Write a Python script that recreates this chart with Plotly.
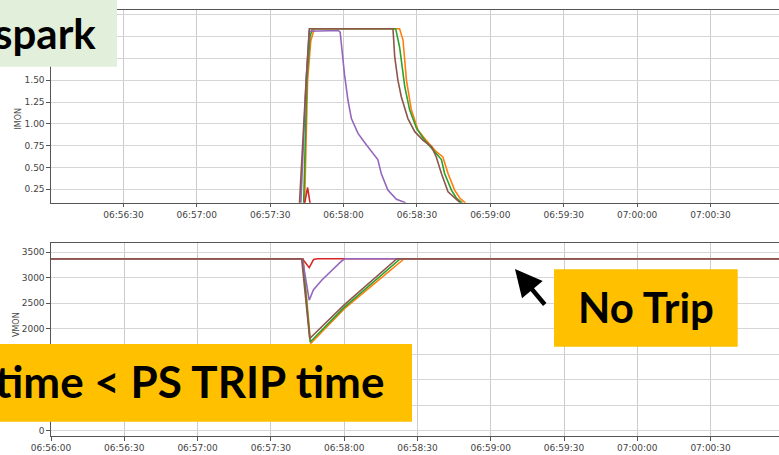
import pandas as pd
import plotly.graph_objects as go

W, H = 779, 455
ML = 51  # left margin in px; plot area runs to the right edge

start = pd.Timestamp("2024-01-01 06:56:00")
span_s = 298  # visible seconds

# ---- IMON (current) per channel: seconds after 06:56:00 / value ----
imon_orange_t = [0, 104.0, 105.3, 106.6, 108.0, 142.9, 144.3, 145.7, 147.7, 150.4,
                 153.8, 157.9, 160.6, 162.7, 165.4, 167.5, 169.5, 172, 298]
imon_orange = [0, 0, 1.50, 1.95, 2.09, 2.09, 1.96, 1.50, 1.16, 0.93,
               0.81, 0.68, 0.62, 0.43, 0.24, 0.15, 0.10, 0, 0]

imon_green_t = [0, 103.6, 105.0, 106.3, 107.2, 141.3, 142.9, 144.0, 145.0, 147.0,
                149.8, 153.2, 156.5, 160.0, 161.3, 164.1, 166.1, 168.2, 171, 298]
imon_green = [0, 0, 1.50, 2.00, 2.09, 2.09, 1.88, 1.65, 1.43, 1.16,
              0.95, 0.81, 0.70, 0.59, 0.43, 0.24, 0.15, 0.10, 0, 0]

imon_red_t = [0, 103.5, 105.3, 106.8, 298]
imon_red = [0, 0, 0.27, 0, 0]

imon_purple_t = [0, 102.4, 104.7, 106.0, 117.8, 118.6, 120.4, 121.8, 123.2, 125.9,
                 129.3, 132.0, 134.0, 135.4, 138.1, 141.6, 145.0, 148, 298]
imon_purple = [0, 0, 1.50, 2.06, 2.07, 2.05, 1.56, 1.27, 1.06, 0.89,
               0.76, 0.66, 0.59, 0.43, 0.24, 0.135, 0.10, 0, 0]

imon_brown_t = [0, 101.8, 104.7, 106.0, 140.2, 140.9, 142.2, 143.6, 146.3, 149.1,
                152.5, 155.9, 157.9, 160.0, 162.7, 165.4, 167.5, 170, 298]
imon_brown = [0, 0, 1.50, 2.09, 2.09, 1.77, 1.50, 1.31, 1.06, 0.91,
              0.81, 0.74, 0.62, 0.43, 0.22, 0.15, 0.10, 0, 0]

# ---- VMON (voltage) per channel ----
vmon_orange_t = [0, 103.2, 106.3, 120.0, 144.6, 298]
vmon_orange = [3375, 3375, 1710, 2390, 3375, 3375]

vmon_green_t = [0, 103.0, 106.1, 120.0, 143.0, 298]
vmon_green = [3375, 3375, 1740, 2420, 3375, 3375]

vmon_red_t = [0, 102.9, 105.7, 107.5, 109.0, 298]
vmon_red = [3375, 3375, 3200, 3360, 3375, 3375]

vmon_purple_t = [0, 102.9, 105.7, 107.4, 110.9, 113.6, 116.3, 119.1, 120.4, 298]
vmon_purple = [3375, 3375, 2560, 2760, 2957, 3088, 3218, 3335, 3375, 3375]

vmon_brown_t = [0, 102.6, 105.9, 120.0, 141.6, 298]
vmon_brown = [3375, 3375, 1810, 2470, 3375, 3375]

imon_ticks = [0.25, 0.50, 0.75, 1.00, 1.25, 1.50, 1.75, 2.00, 2.25]
vmon_ticks = [0, 500, 1000, 1500, 2000, 2500, 3000, 3500]

COLORS = {"orange": "#ff7f0e", "green": "#2ca02c", "red": "#d62728",
          "purple": "#9467bd", "brown": "#8c564b"}


def ts(offsets):
    return [start + pd.Timedelta(seconds=s) for s in offsets]


def px_x(px):
    return (px - ML) / (W - ML)


def px_y(py):
    return (H - py) / H


fig = go.Figure()

top_series = [("orange", imon_orange_t, imon_orange), ("green", imon_green_t, imon_green),
              ("red", imon_red_t, imon_red), ("purple", imon_purple_t, imon_purple),
              ("brown", imon_brown_t, imon_brown)]
bot_series = [("orange", vmon_orange_t, vmon_orange), ("green", vmon_green_t, vmon_green),
              ("red", vmon_red_t, vmon_red), ("purple", vmon_purple_t, vmon_purple),
              ("brown", vmon_brown_t, vmon_brown)]

for name, t, v in top_series:
    fig.add_trace(go.Scatter(x=ts(t), y=v, mode="lines", name=name,
                             line=dict(color=COLORS[name], width=1.6),
                             xaxis="x", yaxis="y", showlegend=False))
for name, t, v in bot_series:
    fig.add_trace(go.Scatter(x=ts(t), y=v, mode="lines", name=name,
                             line=dict(color=COLORS[name], width=1.6),
                             xaxis="x2", yaxis="y2", showlegend=False))

top_range = [start + pd.Timedelta(seconds=0.4), start + pd.Timedelta(seconds=span_s)]
bot_range = [start, start + pd.Timedelta(seconds=span_s)]
tick_font = dict(family="DejaVu Sans", size=9, color="#444")

xcommon = dict(type="date", tick0=start, dtick=30000,
               tickformat="%H:%M:%S", showgrid=True, gridcolor="#cccccc", gridwidth=1,
               showline=True, linecolor="#555", linewidth=1.2, mirror=True,
               ticks="outside", ticklen=3.5, tickcolor="#555", tickfont=tick_font,
               zeroline=False)
ycommon = dict(showgrid=True, gridcolor="#d6d6d6", gridwidth=1,
               showline=True, linecolor="#555", linewidth=1.2, mirror=False,
               ticks="outside", ticklen=3.5, tickcolor="#555", tickfont=tick_font,
               zeroline=False)

fig.update_layout(
    width=W, height=H,
    margin=dict(l=ML, r=0, t=0, b=0),
    paper_bgcolor="white", plot_bgcolor="white",
    xaxis=dict(xcommon, anchor="y", domain=[0, 1], range=top_range),
    yaxis=dict(ycommon, anchor="x", domain=[px_y(202.7), px_y(9.5)],
               range=[0.096, 2.31], tickvals=imon_ticks, tickformat=".2f"),
    xaxis2=dict(xcommon, anchor="y2", domain=[0, 1], range=bot_range),
    yaxis2=dict(ycommon, anchor="x2", domain=[px_y(436), px_y(242.7)],
                range=[-104, 3689], tickvals=vmon_ticks),
)

# axis titles
for label, px, py in [("IMON", 12, 106), ("VMON", 10, 339)]:
    fig.add_annotation(text=label, xref="paper", yref="paper", x=px_x(px), y=px_y(py),
                       textangle=-90, showarrow=False,
                       font=dict(family="DejaVu Sans", size=8, color="#444"))

# call-out boxes
boxes = [
    ((0, 0, 117, 66.7), "#E2EFDA"),
    ((0, 344, 412, 421.7), "#FFC000"),
    ((554, 269.3, 737.7, 346.7), "#FFC000"),
]
for (x0, y0, x1, y1), color in boxes:
    fig.add_shape(type="rect", xref="paper", yref="paper",
                  x0=px_x(x0), x1=px_x(x1), y0=px_y(y1), y1=px_y(y0),
                  fillcolor=color, line=dict(width=0), layer="above")

big = dict(family="Lato", size=42, color="black")
fig.add_annotation(text="<b>spark</b>", xref="paper", yref="paper",
                   x=px_x(98), y=px_y(33), xanchor="right", yanchor="middle",
                   showarrow=False, font=big)
fig.add_annotation(text="<b>time < PS TRIP time</b>", xref="paper", yref="paper",
                   x=px_x(386), y=px_y(381), xanchor="right", yanchor="middle",
                   showarrow=False, font=dict(big, size=44))
fig.add_annotation(text="<b>No Trip</b>", xref="paper", yref="paper",
                   x=px_x(646), y=px_y(307), xanchor="center", yanchor="middle",
                   showarrow=False, font=big)

# arrow pointing at the flat voltage line
fig.add_annotation(text="", xref="paper", yref="paper",
                   x=px_x(515), y=px_y(269), ax=31, ay=37,
                   showarrow=True, arrowhead=2, arrowsize=1.2, arrowwidth=4.5,
                   arrowcolor="black")

fig.write_html("out.html")
